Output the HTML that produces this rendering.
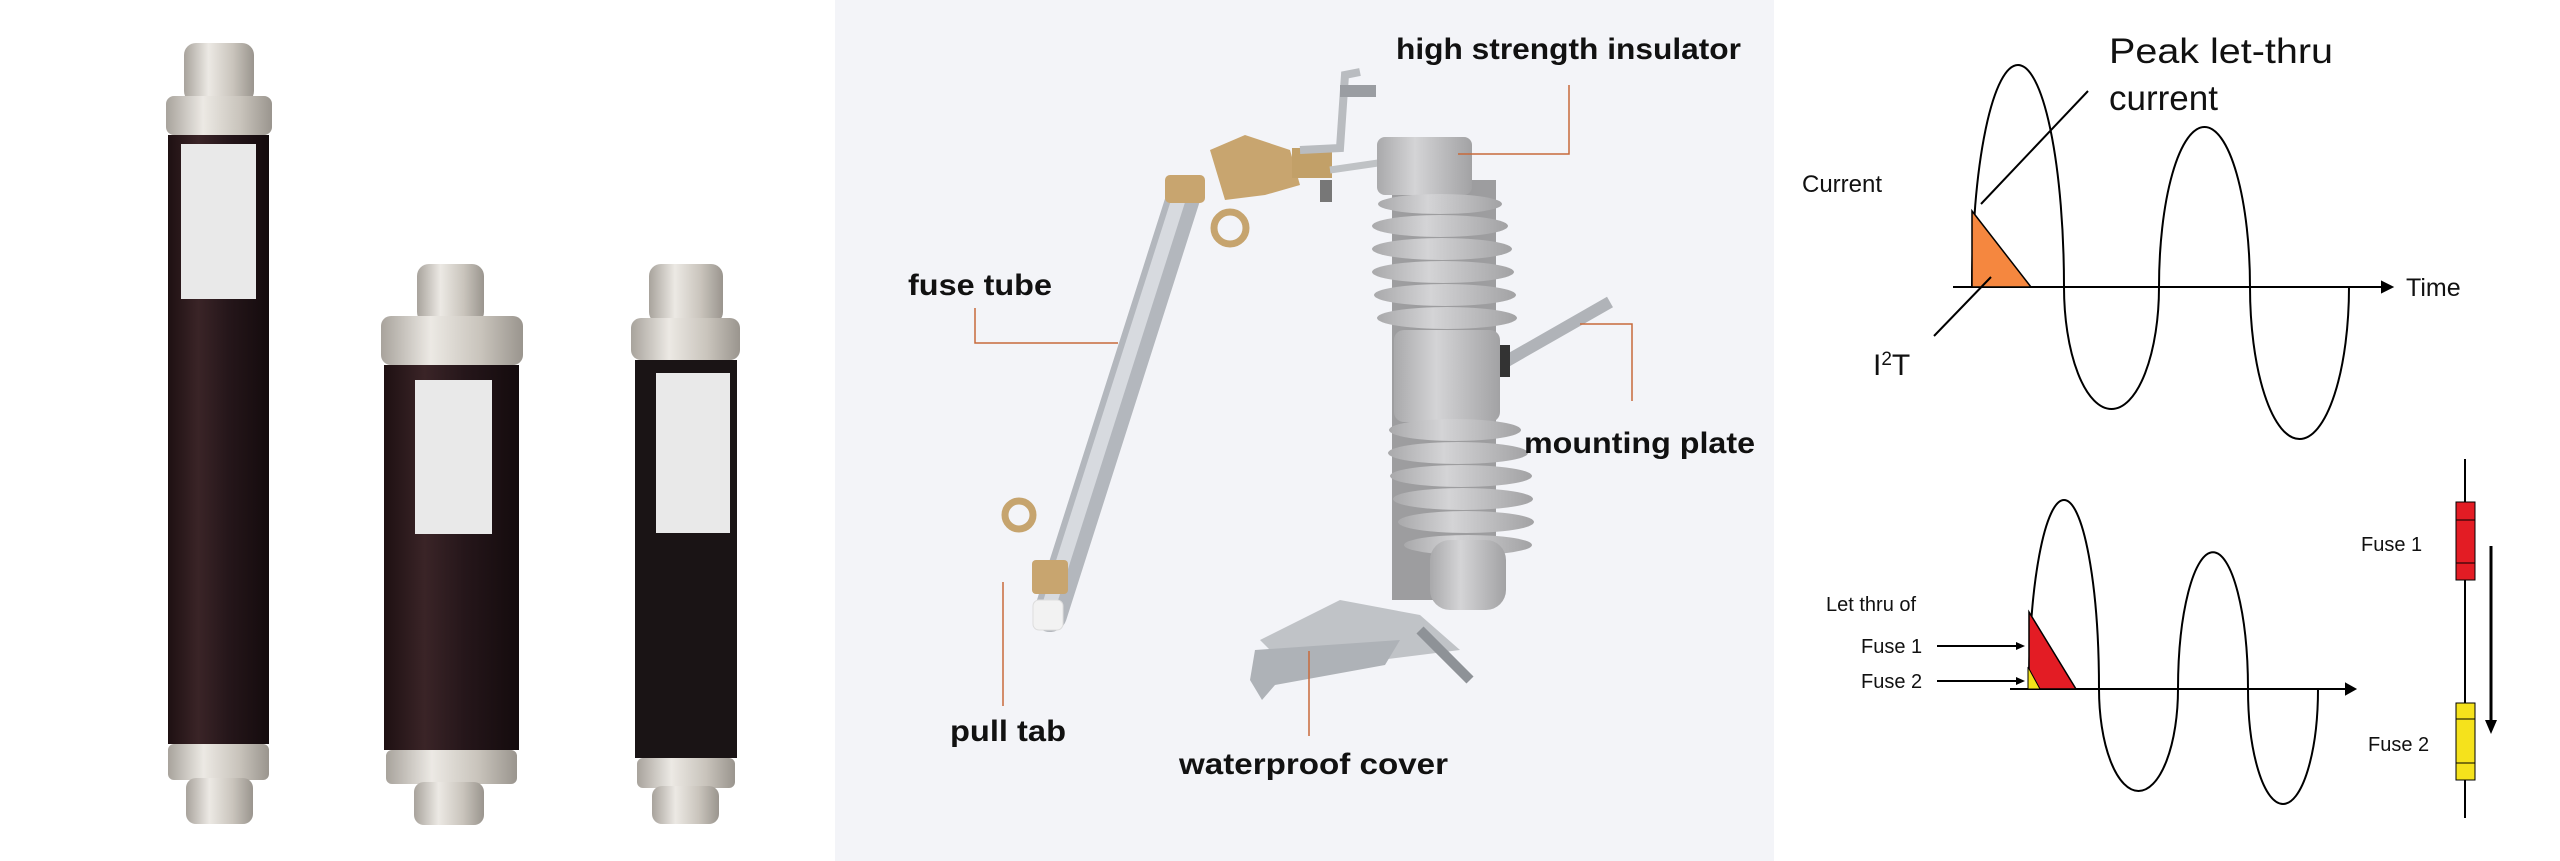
<!DOCTYPE html>
<html><head><meta charset="utf-8"><style>
html,body{margin:0;padding:0;width:2560px;height:861px;overflow:hidden;background:#fff}
svg{display:block}
</style></head><body>
<svg width="2560" height="861" viewBox="0 0 2560 861" xmlns="http://www.w3.org/2000/svg" font-family="Liberation Sans, sans-serif">
<defs>
<linearGradient id="body" x1="0" x2="1"><stop offset="0" stop-color="#1e1012"/><stop offset=".3" stop-color="#3a2427"/><stop offset=".6" stop-color="#25161a"/><stop offset="1" stop-color="#140b0d"/></linearGradient>
<linearGradient id="metal" x1="0" x2="1"><stop offset="0" stop-color="#a8a39c"/><stop offset=".35" stop-color="#ece9e4"/><stop offset=".7" stop-color="#c9c4bc"/><stop offset="1" stop-color="#9a958e"/></linearGradient>
<linearGradient id="ins" x1="0" x2="1"><stop offset="0" stop-color="#a9a9ab"/><stop offset=".4" stop-color="#d4d4d6"/><stop offset="1" stop-color="#a2a2a4"/></linearGradient>
</defs>
<rect x="835" y="0" width="939" height="861" fill="#f3f4f8"/>

<!-- Fuse 1 -->
<g>
<rect x="184" y="43" width="70" height="60" rx="12" fill="url(#metal)"/>
<rect x="166" y="96" width="106" height="39" rx="8" fill="url(#metal)"/>
<rect x="168" y="135" width="101" height="609" fill="url(#body)"/>
<rect x="181" y="144" width="75" height="155" fill="#e9e9e9"/>
<rect x="168" y="744" width="101" height="36" rx="6" fill="url(#metal)"/>
<rect x="186" y="778" width="67" height="46" rx="10" fill="url(#metal)"/>
</g>
<!-- Fuse 2 -->
<g>
<rect x="417" y="264" width="67" height="60" rx="12" fill="url(#metal)"/>
<rect x="381" y="316" width="142" height="49" rx="10" fill="url(#metal)"/>
<rect x="384" y="365" width="135" height="385" fill="url(#body)"/>
<rect x="415" y="380" width="77" height="154" fill="#e9e9e9"/>
<rect x="386" y="750" width="131" height="34" rx="6" fill="url(#metal)"/>
<rect x="414" y="782" width="70" height="43" rx="10" fill="url(#metal)"/>
</g>
<!-- Fuse 3 -->
<g>
<rect x="649" y="264" width="74" height="60" rx="12" fill="url(#metal)"/>
<rect x="631" y="318" width="109" height="42" rx="10" fill="url(#metal)"/>
<rect x="635" y="360" width="102" height="398" fill="#1a1415"/>
<rect x="656" y="373" width="74" height="160" fill="#e9e9e9"/>
<rect x="637" y="758" width="98" height="30" rx="6" fill="url(#metal)"/>
<rect x="652" y="786" width="67" height="38" rx="10" fill="url(#metal)"/>
</g>

<!-- Middle: dropout fuse -->
<g>
<line x1="1184" y1="195" x2="1050" y2="615" stroke="#b3b7bd" stroke-width="34" stroke-linecap="round"/>
<line x1="1180" y1="195" x2="1046" y2="615" stroke="#d7dadf" stroke-width="14"/>
<rect x="1033" y="600" width="30" height="30" rx="6" fill="#f2f2f2" stroke="#ddd"/>
<circle cx="1019" cy="515" r="14" fill="none" stroke="#c6a46e" stroke-width="7"/>
<rect x="1032" y="560" width="36" height="34" rx="4" fill="#c8a56f"/>
<rect x="1165" y="175" width="40" height="28" rx="5" fill="#c8a56f"/>
<circle cx="1230" cy="228" r="16" fill="none" stroke="#c6a46e" stroke-width="7"/>
<path d="M1210 150 L1245 135 L1290 150 L1300 185 L1265 195 L1225 200 Z" fill="#c8a56f"/>
<rect x="1292" y="148" width="40" height="30" fill="#c2a068"/>
<path d="M1300 150 L1340 148 L1345 75 L1360 72" fill="none" stroke="#b9bcc0" stroke-width="8"/>
<rect x="1340" y="85" width="36" height="12" fill="#9a9da2"/>
<line x1="1330" y1="170" x2="1385" y2="162" stroke="#bfc2c5" stroke-width="7"/>
<rect x="1320" y="180" width="12" height="22" fill="#777"/>
<rect x="1392" y="180" width="104" height="420" fill="#9d9d9f"/>
<rect x="1377" y="137" width="95" height="58" rx="8" fill="url(#ins)"/>
<g fill="url(#ins)">
<ellipse cx="1440" cy="204" rx="62" ry="10"/>
<ellipse cx="1440" cy="226" rx="68" ry="11"/>
<ellipse cx="1442" cy="249" rx="70" ry="11"/>
<ellipse cx="1443" cy="272" rx="71" ry="11"/>
<ellipse cx="1445" cy="295" rx="71" ry="11"/>
<ellipse cx="1447" cy="318" rx="70" ry="11"/>
<rect x="1394" y="330" width="106" height="92" rx="10"/>
<ellipse cx="1455" cy="430" rx="66" ry="11"/>
<ellipse cx="1458" cy="453" rx="70" ry="11"/>
<ellipse cx="1461" cy="476" rx="71" ry="11"/>
<ellipse cx="1463" cy="499" rx="70" ry="11"/>
<ellipse cx="1466" cy="522" rx="68" ry="11"/>
<ellipse cx="1468" cy="545" rx="64" ry="10"/>
<rect x="1430" y="540" width="76" height="70" rx="20"/>
</g>
<line x1="1505" y1="362" x2="1610" y2="302" stroke="#b0b3b8" stroke-width="12"/>
<rect x="1500" y="345" width="10" height="32" fill="#333"/>
<path d="M1260 640 L1340 600 L1420 615 L1460 650 L1380 660 L1290 670 Z" fill="#c0c3c7"/>
<path d="M1255 650 L1400 640 L1385 665 L1275 685 L1262 700 L1250 680 Z" fill="#aeb2b7"/>
<line x1="1420" y1="630" x2="1470" y2="680" stroke="#8e9297" stroke-width="10"/>
</g>
<g stroke="#c86a3a" stroke-width="1.5" fill="none">
<path d="M1569 85 V154 H1458"/>
<path d="M975 308 V343 H1118"/>
<path d="M1003 582 V706"/>
<path d="M1580 324 H1632 V401"/>
<path d="M1309 651 V736"/>
</g>
<g font-weight="bold" font-size="30" fill="#111">
<text x="1396" y="59" textLength="345" lengthAdjust="spacingAndGlyphs">high strength insulator</text>
<text x="908" y="295" textLength="144" lengthAdjust="spacingAndGlyphs">fuse tube</text>
<text x="950" y="741" textLength="116" lengthAdjust="spacingAndGlyphs">pull tab</text>
<text x="1524" y="453" textLength="231" lengthAdjust="spacingAndGlyphs">mounting plate</text>
<text x="1179" y="774" textLength="269" lengthAdjust="spacingAndGlyphs">waterproof cover</text>
</g>

<!-- Right top graph -->
<g stroke="#000" stroke-width="2" fill="none">
<line x1="1953" y1="287" x2="2385" y2="287"/>
<path d="M2382 282 L2392 287 L2382 292 Z" fill="#000"/>
<path d="M1972 287 A46 222 0 0 1 2064 287 A47.5 122 0 0 0 2159 287 A45.5 160 0 0 1 2250 287 A49.5 152 0 0 0 2349 287"/>
</g>
<path d="M1972 211 L1972 287 L2031 287 Z" fill="#f5873f" stroke="#000" stroke-width="1.5"/>
<line x1="2088" y1="91" x2="1981" y2="204" stroke="#000" stroke-width="2"/>
<line x1="1934" y1="336" x2="1991" y2="277" stroke="#000" stroke-width="2"/>
<g fill="#111">
<text x="2109" y="63" font-size="35" textLength="224" lengthAdjust="spacingAndGlyphs">Peak let-thru</text>
<text x="2109" y="110" font-size="35">current</text>
<text x="1802" y="192" font-size="24">Current</text>
<text x="2406" y="296" font-size="25">Time</text>
<text x="1873" y="375" font-size="30">I<tspan font-size="19" dy="-10">2</tspan><tspan dy="10">T</tspan></text>
</g>

<!-- Right bottom graph -->
<g stroke="#000" stroke-width="2" fill="none">
<line x1="2010" y1="689" x2="2348" y2="689"/>
<path d="M2346 684 L2355 689 L2346 694 Z" fill="#000"/>
<path d="M2029 689 A35 189 0 0 1 2099 689 A39.5 102 0 0 0 2178 689 A35 137 0 0 1 2248 689 A35 115 0 0 0 2318 689"/>
</g>
<path d="M2029 612 L2029 689 L2076 689 Z" fill="#e31c24" stroke="#000" stroke-width="1.5"/>
<path d="M2028 667 L2028 689 L2040 689 Z" fill="#f2e21a" stroke="#000" stroke-width="1"/>
<g stroke="#000" stroke-width="2">
<line x1="1937" y1="646" x2="2018" y2="646"/>
<line x1="1937" y1="681" x2="2018" y2="681"/>
</g>
<path d="M2016 642 L2025 646 L2016 650 Z M2016 677 L2025 681 L2016 685 Z" fill="#000"/>
<g fill="#111" font-size="20">
<text x="1826" y="611">Let thru of</text>
<text x="1861" y="653">Fuse 1</text>
<text x="1861" y="688">Fuse 2</text>
<text x="2361" y="551">Fuse 1</text>
<text x="2368" y="751">Fuse 2</text>
</g>
<line x1="2465" y1="459" x2="2465" y2="818" stroke="#000" stroke-width="2"/>
<rect x="2456" y="502" width="19" height="78" fill="#e31c24" stroke="#000" stroke-width="1"/>
<line x1="2456" y1="520" x2="2475" y2="520" stroke="#000"/>
<line x1="2456" y1="563" x2="2475" y2="563" stroke="#000"/>
<rect x="2456" y="703" width="19" height="77" fill="#f5e21c" stroke="#000" stroke-width="1"/>
<line x1="2456" y1="719" x2="2475" y2="719" stroke="#000"/>
<line x1="2456" y1="763" x2="2475" y2="763" stroke="#000"/>
<line x1="2491" y1="546" x2="2491" y2="722" stroke="#000" stroke-width="3"/>
<path d="M2485 720 L2491 734 L2497 720 Z" fill="#000"/>
</svg>
</body></html>
